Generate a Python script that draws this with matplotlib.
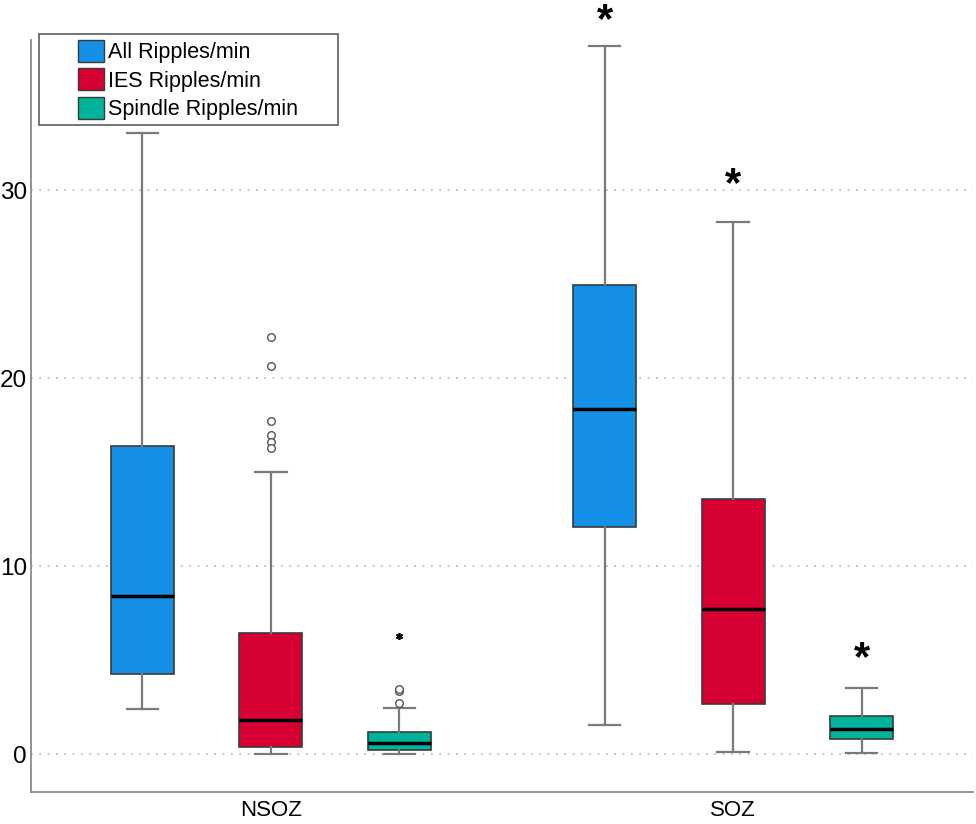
import matplotlib.pyplot as plt
from matplotlib.patches import Patch, Rectangle

groups = ["NSOZ", "SOZ"]
series = ["All Ripples/min", "IES Ripples/min", "Spindle Ripples/min"]
colors = ["#1490E6", "#D70032", "#00B39B"]

# box stats per series, [NSOZ, SOZ]
whislo = [[2.41, 1.58], [0.0, 0.11], [0.0, 0.07]]
q1 = [[4.26, 12.09], [0.41, 2.70], [0.23, 0.80]]
med = [[8.42, 18.37], [1.85, 7.71], [0.62, 1.33]]
q3 = [[16.42, 24.95], [6.45, 13.58], [1.17, 2.02]]
whishi = [[33.03, 37.68], [15.0, 28.3], [2.45, 3.51]]
outliers = [[[], []],
            [[22.18, 20.64, 17.75, 16.97, 16.63, 16.29], []],
            [[2.71, 3.37, 3.49], []]]
extremes = [[[], []], [[], []], [[6.28], []]]

# significance stars: (series index, group index, y)
stars = [(0, 1, 39.0), (1, 1, 30.3), (2, 1, 5.05)]

offset = 0.278
box_w = 0.136

plt.rcParams["font.family"] = ["Liberation Sans", "DejaVu Sans"]

fig = plt.figure(figsize=(9.76, 8.24), dpi=100)
ax = fig.add_axes([31 / 976, 1 - 792 / 824, (973 - 31) / 976, (792 - 40) / 824])

for i, s in enumerate(series):
    stats = []
    pos = []
    for g in range(len(groups)):
        stats.append({"med": med[i][g], "q1": q1[i][g], "q3": q3[i][g],
                      "whislo": whislo[i][g], "whishi": whishi[i][g],
                      "fliers": outliers[i][g]})
        pos.append(g + (i - 1) * offset)
    ax.bxp(stats, positions=pos, widths=box_w, capwidths=box_w / 2,
           patch_artist=True, manage_ticks=False,
           boxprops=dict(facecolor=colors[i], edgecolor="#3a3a3a", linewidth=1.2),
           medianprops=dict(color="black", linewidth=2.5),
           whiskerprops=dict(color="#7a7a7a", linewidth=1.6),
           capprops=dict(color="#7a7a7a", linewidth=1.6),
           flierprops=dict(marker="o", markerfacecolor="white",
                           markeredgecolor="#555555", markersize=5.5,
                           markeredgewidth=1.0))
    for g in range(len(groups)):
        if extremes[i][g]:
            ax.plot([g + (i - 1) * offset] * len(extremes[i][g]), extremes[i][g],
                    marker=(6, 2, 0), color="black", markersize=5,
                    linestyle="none", markeredgewidth=1.2)

for i, g, y in stars:
    ax.text(g + (i - 1) * offset, y, "*", fontsize=30, ha="center", va="center",
            fontweight="bold", clip_on=False)

ax.set_xlim(-0.519, 1.519)
ax.set_ylim(-2, 38)
ax.set_xticks(range(len(groups)))
ax.set_xticklabels(groups, fontsize=16)
ax.set_yticks([0, 10, 20, 30])
ax.tick_params(axis="y", labelsize=17.5, length=0, pad=3)
ax.tick_params(axis="x", length=0, pad=6)
ax.grid(axis="y", linestyle=(0, (1, 4)), color="#b5b5b5", linewidth=1.2)
ax.set_axisbelow(True)
for side in ["top", "right"]:
    ax.spines[side].set_visible(False)
for side in ["left", "bottom"]:
    ax.spines[side].set_color("#8a8a8a")
    ax.spines[side].set_linewidth(1.3)

handles = [Patch(facecolor=c, edgecolor="#3a3a3a", label=s) for c, s in zip(colors, series)]
fig.legend(handles=handles, loc="center", bbox_to_anchor=(188 / 976, 1 - 80 / 824),
           frameon=False, fontsize=15.5, handlelength=1.2, handleheight=1.2,
           handletextpad=0.15, labelspacing=0.25)
fig.patches.append(Rectangle((39 / 976, 1 - 125 / 824), 299 / 976, 91 / 824,
                             transform=fig.transFigure, fill=False,
                             edgecolor="#6a6a6a", linewidth=1.3, zorder=5))

fig.savefig("out.png", dpi=100)
